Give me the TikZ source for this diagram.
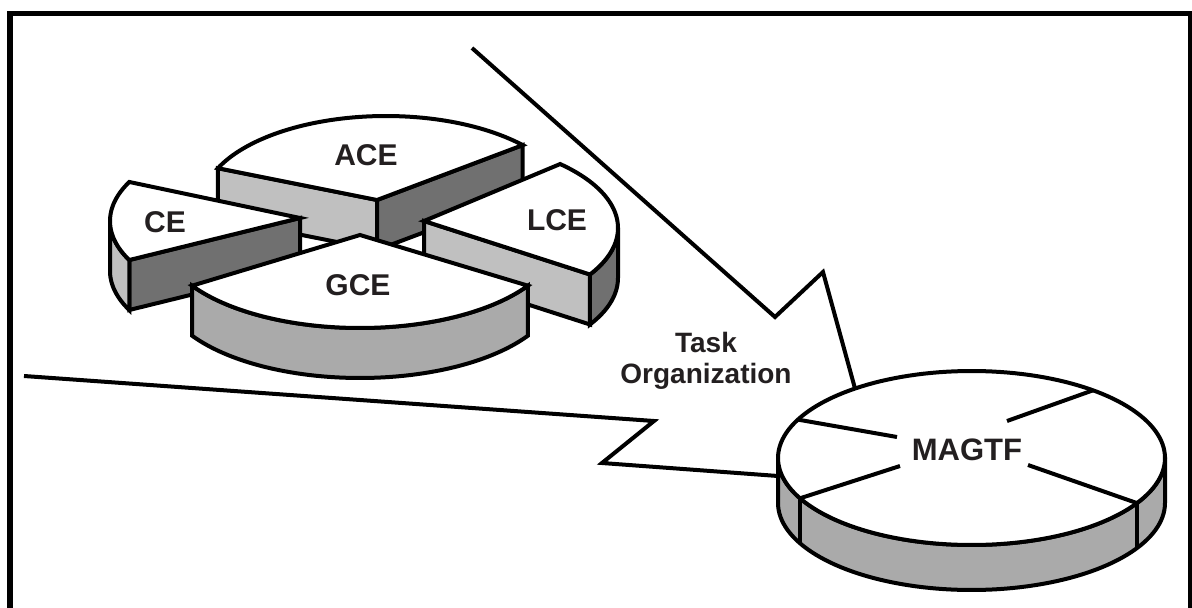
\documentclass[tikz,border=0pt]{standalone}
\usepackage{fontspec}
\setmainfont{Liberation Sans}
\definecolor{lightface}{HTML}{C0C0C0}
\definecolor{darkface}{HTML}{707070}
\definecolor{midface}{HTML}{AAAAAA}
\definecolor{txt}{HTML}{231F20}
\begin{document}
\begin{tikzpicture}[x=1pt,y=-1pt,
  edge/.style={draw=black,line width=4pt,line join=miter},
  bolt/.style={draw=black,line width=4pt,line join=miter},
  lbl/.style={font=\bfseries\fontsize{30}{30}\selectfont,text=txt,inner sep=0pt,anchor=base},
  tlbl/.style={font=\bfseries\fontsize{28}{28}\selectfont,text=txt,inner sep=0pt,anchor=base}]
\useasboundingbox (0,0) rectangle (1192,608);
\fill[white] (0,0) rectangle (1192,608);
% frame
\draw[line width=5.5pt] (9.8,650) -- (9.8,13.7) -- (1191,13.7) -- (1191,650);

% ---------- ACE ----------
\filldraw[edge,fill=lightface] (217.9,168.2) -- (377,200) -- (377,250) -- (217.9,218.2) -- cycle;
\filldraw[edge,fill=darkface] (377,200) -- (522.7,145.1) -- (522.7,195.1) -- (377,250) -- cycle;
\filldraw[edge,fill=white] (377,200) -- plot[domain=204:318,samples=60] ({386+184*cos(\x)},{204+88*sin(\x)}) -- cycle;

% ---------- LCE ----------
\filldraw[edge,fill=lightface] (424,221) -- (590,274.5) -- (590,324.5) -- (424,271) -- cycle;
\filldraw[edge,fill=darkface] plot[domain=0:31.1,samples=20] ({423+195*cos(\x)},{228+90*sin(\x)}) -- plot[domain=31.1:0,samples=20] ({423+195*cos(\x)},{278+90*sin(\x)}) -- cycle;
\filldraw[edge,fill=white] (424,221) -- plot[domain=-45.3:31.1,samples=50] ({423+195*cos(\x)},{228+90*sin(\x)}) -- cycle;

% ---------- CE ----------
\filldraw[edge,fill=darkface] (129.3,260) -- (300,218) -- (300,268) -- (129.3,310) -- cycle;
\filldraw[edge,fill=lightface] plot[domain=154.3:180,samples=20] ({305+195*cos(\x)},{221+90*sin(\x)}) -- plot[domain=180:154.3,samples=20] ({305+195*cos(\x)},{271+90*sin(\x)}) -- cycle;
\filldraw[edge,fill=white] (300,218) -- plot[domain=154.3:205.7,samples=40] ({305+195*cos(\x)},{221+90*sin(\x)}) -- cycle;

% ---------- GCE ----------
\filldraw[edge,fill=midface] plot[domain=32:148,samples=60] ({360+198*cos(\x)},{238+90*sin(\x)}) -- plot[domain=148:32,samples=60] ({360+198*cos(\x)},{288+90*sin(\x)}) -- cycle;
\filldraw[edge,fill=white] (360,235) -- plot[domain=32:148,samples=60] ({360+198*cos(\x)},{238+90*sin(\x)}) -- cycle;

% ---------- MAGTF ----------
\filldraw[edge,fill=midface] plot[domain=0:180,samples=80] ({971.5+193.5*cos(\x)},{458+87*sin(\x)}) -- plot[domain=180:0,samples=80] ({971.5+193.5*cos(\x)},{503+87*sin(\x)}) -- cycle;
\filldraw[edge,fill=white] plot[domain=0:360,samples=160] ({971.5+193.5*cos(\x)},{458+87*sin(\x)}) -- cycle;
\coordinate (mLLo) at (800,498.3);
\coordinate (mLRo) at (1137,503.1);
\coordinate (mULo) at (797.9,419.6);
\coordinate (mURo) at (1093,390.3);
\coordinate (mULi) at (897,437);
\coordinate (mURi) at (1007,421);
\coordinate (mLLi) at (900,466);
\coordinate (mLRi) at (1028,465);
\draw[edge] (mLLo) -- ++(0,45);
\draw[edge] (mLRo) -- ++(0,45);
\draw[edge] (mULo) -- (mULi);
\draw[edge] (mURo) -- (mURi);
\draw[edge] (mLLo) -- (mLLi);
\draw[edge] (mLRo) -- (mLRi);

% ---------- bolt lines ----------
\coordinate (t0) at (472,48);
\coordinate (t1) at (775,317);
\coordinate (t2) at (823,272);
\coordinate (t3) at (855,388.5);
\draw[bolt] (t0) -- (t1) -- (t2) -- (t3);
\coordinate (b0) at (24,376);
\coordinate (b1) at (654,421);
\coordinate (b2) at (602,463);
\coordinate (b3) at (778,476);
\draw[bolt] (b0) -- (b1) -- (b2) -- (b3);

% ---------- labels ----------
\node[lbl] (ace) at (366,165) {ACE};
\node[lbl] (ce) at (165,232) {CE};
\node[lbl] (lce) at (557,230) {LCE};
\node[lbl] (gce) at (358,295) {GCE};
\node[tlbl] (task) at (706,352) {Task};
\node[tlbl] (org) at (706,383) {Organization};
\node[lbl,font=\bfseries\fontsize{31}{31}\selectfont] (magtf) at (967,460) {MAGTF};
\end{tikzpicture}
\end{document}
